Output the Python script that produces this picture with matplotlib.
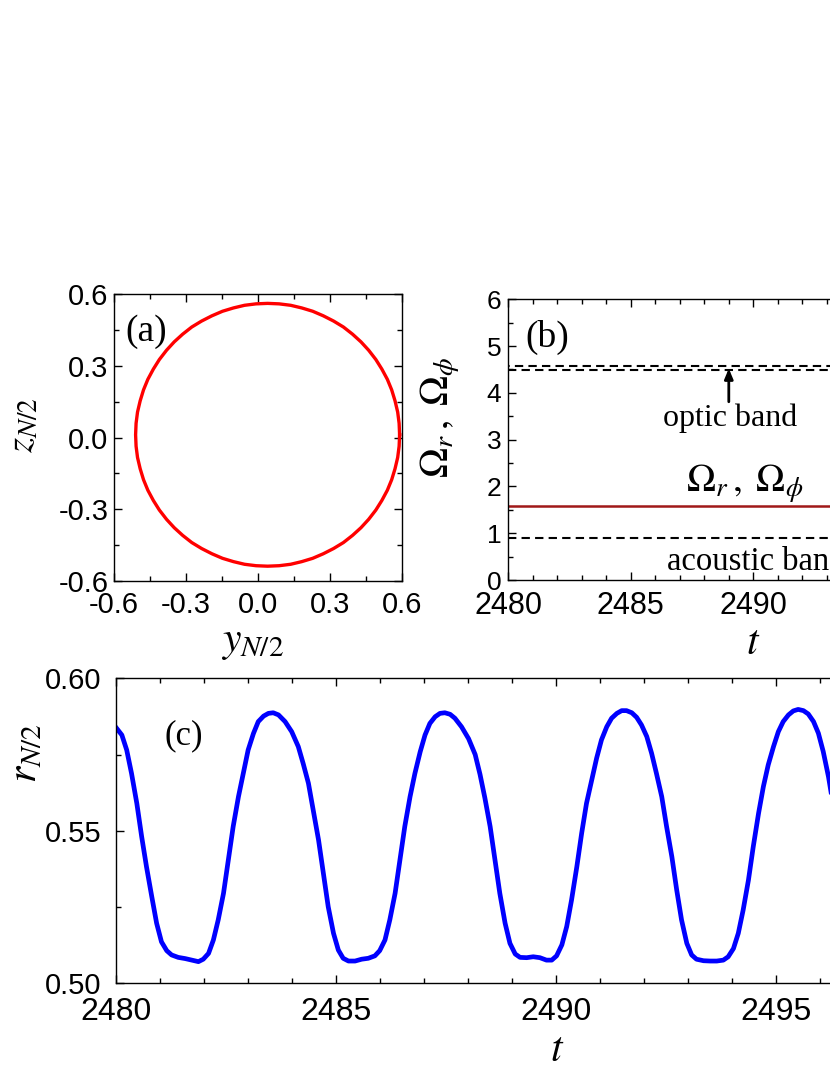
import numpy as np
import matplotlib.pyplot as plt
from matplotlib.ticker import MultipleLocator, FormatStrFormatter

plt.rcParams['font.family'] = ['Liberation Sans', 'DejaVu Sans']
plt.rcParams['mathtext.fontset'] = 'stix'
plt.rcParams['axes.unicode_minus'] = False
plt.rcParams['axes.linewidth'] = 1.0

W, H = 830, 1075
serif = 'Liberation Serif'

# (a) orbit of the middle particle
y_orbit = [0.590, 0.588, 0.582, 0.571, 0.557, 0.539, 0.516, 0.491, 0.461, 0.429,
           0.394, 0.356, 0.315, 0.272, 0.228, 0.182, 0.136, 0.088, 0.040,
           -0.008, -0.056, -0.102, -0.148, -0.192, -0.235, -0.276, -0.314, -0.349,
           -0.381, -0.411, -0.436, -0.459, -0.477, -0.491, -0.502, -0.508, -0.510,
           -0.508, -0.502, -0.491, -0.477, -0.459, -0.436, -0.411, -0.381, -0.349,
           -0.314, -0.276, -0.235, -0.192, -0.148, -0.102, -0.056, -0.008, 0.040,
           0.088, 0.136, 0.182, 0.228, 0.272, 0.315, 0.356, 0.394, 0.429,
           0.461, 0.491, 0.516, 0.539, 0.557, 0.571, 0.582, 0.588, 0.590]
z_orbit = [0.012, 0.060, 0.107, 0.154, 0.200, 0.244, 0.287, 0.327, 0.366, 0.401,
           0.433, 0.463, 0.488, 0.510, 0.529, 0.543, 0.554, 0.560, 0.562,
           0.560, 0.554, 0.543, 0.529, 0.510, 0.488, 0.463, 0.433, 0.401,
           0.366, 0.327, 0.287, 0.244, 0.200, 0.154, 0.107, 0.060, 0.012,
           -0.036, -0.083, -0.130, -0.176, -0.220, -0.263, -0.303, -0.342, -0.377,
           -0.409, -0.439, -0.464, -0.486, -0.505, -0.519, -0.530, -0.536, -0.538,
           -0.536, -0.530, -0.519, -0.505, -0.486, -0.464, -0.439, -0.409, -0.377,
           -0.342, -0.303, -0.263, -0.220, -0.176, -0.130, -0.083, -0.036, 0.012]

# (b) frequencies
t_b = [2480, 2500]
optic_band = [4.49, 4.575]
acoustic_band = 0.90
omega_rphi = 1.59

# (c) r_{N/2}(t)
t_c = [2480.00, 2480.14, 2480.25, 2480.36, 2480.48, 2480.59, 2480.70, 2480.82, 2480.93,
       2481.04, 2481.16, 2481.27, 2481.42, 2481.58, 2481.73, 2481.88, 2481.99,
       2482.11, 2482.22, 2482.33, 2482.45, 2482.56, 2482.67, 2482.79, 2482.90,
       2483.01, 2483.13, 2483.24, 2483.36, 2483.47, 2483.58, 2483.70, 2483.85,
       2484.00, 2484.15, 2484.26, 2484.38, 2484.49, 2484.61, 2484.72, 2484.83, 2484.95,
       2485.06, 2485.17, 2485.29, 2485.44, 2485.59, 2485.74, 2485.89,
       2486.00, 2486.12, 2486.23, 2486.35, 2486.46, 2486.57, 2486.69, 2486.80, 2486.92,
       2487.03, 2487.14, 2487.26, 2487.37, 2487.48, 2487.60, 2487.71, 2487.86,
       2488.02, 2488.17, 2488.28, 2488.39, 2488.51, 2488.62, 2488.73, 2488.85, 2488.96,
       2489.08, 2489.19, 2489.34, 2489.49, 2489.64, 2489.79, 2489.91,
       2490.02, 2490.14, 2490.25, 2490.36, 2490.48, 2490.59, 2490.70, 2490.82, 2490.93,
       2491.04, 2491.16, 2491.27, 2491.39, 2491.50, 2491.61, 2491.73, 2491.84, 2491.95,
       2492.07, 2492.18, 2492.29, 2492.41, 2492.52, 2492.64, 2492.75, 2492.86, 2492.98,
       2493.09, 2493.20, 2493.36, 2493.51, 2493.66, 2493.81, 2493.92,
       2494.04, 2494.15, 2494.26, 2494.38, 2494.49, 2494.61, 2494.72, 2494.83, 2494.95,
       2495.06, 2495.17, 2495.29, 2495.40, 2495.51, 2495.63, 2495.74, 2495.86, 2495.97,
       2496.08, 2496.20, 2496.30]
r_c = [0.5840, 0.5814, 0.5765, 0.5688, 0.5590, 0.5481, 0.5382, 0.5284, 0.5197,
       0.5136, 0.5107, 0.5093, 0.5085, 0.5081, 0.5076, 0.5071, 0.5079,
       0.5098, 0.5142, 0.5208, 0.5295, 0.5404, 0.5514, 0.5612, 0.5688,
       0.5765, 0.5819, 0.5858, 0.5876, 0.5885, 0.5887, 0.5880, 0.5858,
       0.5825, 0.5776, 0.5721, 0.5656, 0.5568, 0.5470, 0.5361, 0.5251, 0.5164,
       0.5109, 0.5082, 0.5073, 0.5073, 0.5079, 0.5082, 0.5090,
       0.5107, 0.5142, 0.5208, 0.5295, 0.5404, 0.5514, 0.5612, 0.5688, 0.5759,
       0.5814, 0.5852, 0.5874, 0.5885, 0.5887, 0.5882, 0.5869, 0.5841,
       0.5802, 0.5750, 0.5685, 0.5608, 0.5514, 0.5404, 0.5295, 0.5197, 0.5131,
       0.5096, 0.5085, 0.5084, 0.5087, 0.5084, 0.5076, 0.5076,
       0.5090, 0.5126, 0.5186, 0.5273, 0.5382, 0.5492, 0.5590, 0.5667, 0.5738,
       0.5798, 0.5841, 0.5869, 0.5885, 0.5894, 0.5894, 0.5887, 0.5872, 0.5847,
       0.5809, 0.5754, 0.5688, 0.5612, 0.5514, 0.5415, 0.5306, 0.5208, 0.5131,
       0.5093, 0.5079, 0.5074, 0.5073, 0.5073, 0.5076, 0.5087,
       0.5114, 0.5164, 0.5240, 0.5338, 0.5448, 0.5557, 0.5645, 0.5716, 0.5776,
       0.5825, 0.5858, 0.5880, 0.5893, 0.5898, 0.5894, 0.5883, 0.5858, 0.5820,
       0.5760, 0.5677, 0.5590]


def box(left, top, right, bottom):
    # pixel box -> figure fraction
    return [left / W, 1 - bottom / H, (right - left) / W, (bottom - top) / H]


def px(x, y):
    return x / W, 1 - y / H


def style(ax, xsize, ysize, xpad, ypad):
    ax.tick_params(which='both', direction='in', top=True, right=True, width=1.0)
    ax.tick_params(which='major', length=6)
    ax.tick_params(which='minor', length=3.5)
    ax.tick_params(axis='x', labelsize=xsize, pad=xpad)
    ax.tick_params(axis='y', labelsize=ysize, pad=ypad)


fig = plt.figure(figsize=(W / 100, H / 100), dpi=100)

# ---- (a)
ax1 = fig.add_axes(box(114, 294.3, 402, 581))
ax1.plot(y_orbit, z_orbit, color='#ff0000', lw=2.4, solid_joinstyle='round')
ax1.set_xlim(-0.6, 0.6)
ax1.set_ylim(-0.6, 0.6)
ax1.xaxis.set_major_locator(MultipleLocator(0.3))
ax1.xaxis.set_minor_locator(MultipleLocator(0.15))
ax1.yaxis.set_major_locator(MultipleLocator(0.3))
ax1.yaxis.set_minor_locator(MultipleLocator(0.15))
ax1.xaxis.set_major_formatter(FormatStrFormatter('%.1f'))
ax1.yaxis.set_major_formatter(FormatStrFormatter('%.1f'))
style(ax1, 21, 21, 7, 4)
ax1.text(0.111, 0.868, '(a)', transform=ax1.transAxes, fontsize=27, family=serif,
         ha='center', va='center')
fig.text(*px(252, 642), r'$y_{N/2}$', fontsize=30, ha='center', va='center')
fig.text(*px(22, 425), r'$z_{N/2}$', fontsize=28, ha='center', va='center', rotation=90)

# ---- (b)
ax2 = fig.add_axes(box(508.3, 299.3, 998.3, 580))
ax2.axhline(optic_band[0], color='black', lw=1.5, ls=(0, (4, 2.5)))
ax2.axhline(optic_band[1], color='black', lw=1.5, ls=(3.2, (4, 2.5)))
ax2.axhline(acoustic_band, color='black', lw=1.5, ls=(0, (4, 2.5)))
ax2.plot(t_b, [omega_rphi] * 2, color='#a01818', lw=1.8)
ax2.set_xlim(t_b)
ax2.set_ylim(0, 6)
ax2.xaxis.set_major_locator(MultipleLocator(5))
ax2.xaxis.set_minor_locator(MultipleLocator(1))
ax2.yaxis.set_major_locator(MultipleLocator(1))
ax2.yaxis.set_minor_locator(MultipleLocator(0.5))
style(ax2, 22, 19, 8, 5)
ax2.annotate('', xy=(2489, optic_band[0] + 0.03), xytext=(2489, 3.81),
             arrowprops=dict(arrowstyle='-|>,head_length=0.6,head_width=0.25',
                             color='black', lw=2, shrinkA=0, shrinkB=0))
ax2.text(2486.33, 3.30, 'optic band', fontsize=23, family=serif, ha='left', va='baseline')
ax2.text(2489.66, 1.89, r'$\Omega_r\,,\;\Omega_\phi$', fontsize=28, ha='center', va='baseline')
ax2.text(2486.47, 0.22, 'acoustic band', fontsize=23.5, family=serif, ha='left', va='baseline')
ax2.text(2481.6, 5.18, '(b)', fontsize=27, family=serif, ha='center', va='center')
fig.text(*px(753, 643), r'$t$', fontsize=30, ha='center', va='center')
fig.text(*px(440, 417), r'$\Omega_r\,,\;\Omega_\phi$', fontsize=29, ha='center', va='center',
         rotation=90)

# ---- (c)
ax3 = fig.add_axes(box(115.7, 678.3, 995.7, 983.3))
ax3.plot(t_c, r_c, color='#0000ff', lw=3.4, solid_joinstyle='round')
ax3.set_xlim(2480, 2500)
ax3.set_ylim(0.50, 0.60)
ax3.xaxis.set_major_locator(MultipleLocator(5))
ax3.xaxis.set_minor_locator(MultipleLocator(1))
ax3.yaxis.set_major_locator(MultipleLocator(0.05))
ax3.yaxis.set_minor_locator(MultipleLocator(0.025))
ax3.yaxis.set_major_formatter(FormatStrFormatter('%.2f'))
style(ax3, 23, 21, 10, 10)
ax3.text(2481.55, 0.5811, '(c)', fontsize=25, family=serif, ha='center', va='center')
fig.text(*px(557, 1050), r'$t$', fontsize=30, ha='center', va='center')
fig.text(*px(24, 753), r'$r_{N/2}$', fontsize=30, ha='center', va='center', rotation=90)

fig.savefig('out.png', dpi=100)
